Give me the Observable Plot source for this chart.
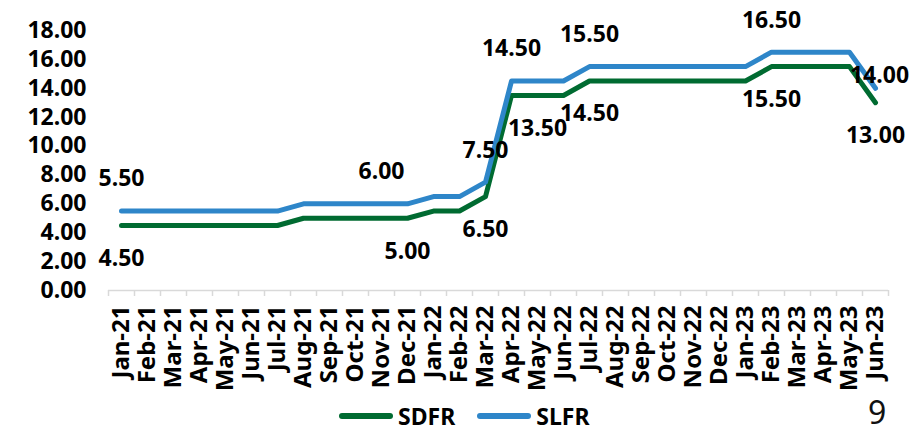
<!DOCTYPE html>
<html>
<head>
<meta charset="utf-8">
<script src="https://cdn.jsdelivr.net/npm/d3@7"></script>
<script src="https://cdn.jsdelivr.net/npm/@observablehq/plot@0.6"></script>
<style>
  html, body { margin: 0; padding: 0; background: #fff; }
  #wrap { position: relative; width: 909px; height: 435px; overflow: hidden; font-family: "Noto Sans", "Open Sans", sans-serif; }
  #legend { position: absolute; left: 339px; top: 400px; display: flex; align-items: center; font-weight: bold; font-size: 23px; color: #000; line-height: 32px; height: 32px; }
  .sw { display: inline-block; width: 54px; height: 6px; border-radius: 3px; margin-right: 5px; }
  .item { display: flex; align-items: center; margin-right: 22px; }
  #page { position: absolute; left: 868px; top: 390px; font-size: 32px; color: #111; line-height: 44px; height: 44px; }
</style>
</head>
<body>
<div id="wrap">
  <div id="chart"></div>
  <div id="legend"></div>
  <div id="page">9</div>
</div>
<script>
const months = ["Jan-21","Feb-21","Mar-21","Apr-21","May-21","Jun-21","Jul-21","Aug-21","Sep-21","Oct-21","Nov-21","Dec-21",
  "Jan-22","Feb-22","Mar-22","Apr-22","May-22","Jun-22","Jul-22","Aug-22","Sep-22","Oct-22","Nov-22","Dec-22",
  "Jan-23","Feb-23","Mar-23","Apr-23","May-23","Jun-23"];
const sdfr = [4.5,4.5,4.5,4.5,4.5,4.5,4.5,5.0,5.0,5.0,5.0,5.0,
  5.5,5.5,6.5,13.5,13.5,13.5,14.5,14.5,14.5,14.5,14.5,14.5,
  14.5,15.5,15.5,15.5,15.5,13.0];
const slfr = [5.5,5.5,5.5,5.5,5.5,5.5,5.5,6.0,6.0,6.0,6.0,6.0,
  6.5,6.5,7.5,14.5,14.5,14.5,15.5,15.5,15.5,15.5,15.5,15.5,
  15.5,16.5,16.5,16.5,16.5,14.0];
const yTicks = [0,2,4,6,8,10,12,14,16,18];
const seriesNames = ["SDFR","SLFR"];
const seriesColors = ["#006b31","#2e86c9"];
const sdfrLabelMonths = ["Jan-21","Dec-21","Mar-22","May-22","Jul-22","Feb-23","Jun-23"];
const slfrLabelMonths = ["Jan-21","Nov-21","Mar-22","Apr-22","Jul-22","Feb-23"];
const slfrEndLabelMonths = ["Jun-23"];

const rows = (vals, name) => vals.map((v, i) => ({i, month: months[i], v, name}));
const sdfrRows = rows(sdfr, "SDFR");
const slfrRows = rows(slfr, "SLFR");
const pick = (rs, list) => rs.filter(r => list.includes(r.month));
const boundaries = d3.range(months.length + 1).map(i => i - 0.5);
const font = "Noto Sans, Open Sans, sans-serif";

const chart = Plot.plot({
  width: 909,
  height: 400,
  marginLeft: 108,
  marginRight: 21,
  marginTop: 30,
  marginBottom: 110,
  style: {fontFamily: font, background: "white", overflow: "visible"},
  x: {type: "linear", domain: [-0.5, months.length - 0.5]},
  y: {domain: [0, 18]},
  marks: [
    Plot.ruleY([0], {stroke: "#d9d9d9", strokeWidth: 1.5}),
    Plot.axisX(boundaries, {tickSize: 6, tickFormat: () => "", stroke: "#d9d9d9", strokeWidth: 1.5, label: null}),
    Plot.axisX(d3.range(months.length), {tickSize: 0, tickPadding: 15, tickRotate: -90, tickFormat: i => months[i],
      fontSize: 24, fontWeight: "bold", fill: "#000", label: null}),
    Plot.axisY(yTicks, {tickSize: 0, tickPadding: 22, tickFormat: d => d.toFixed(2),
      fontSize: 23, fontWeight: "bold", fill: "#000", label: null}),
    Plot.line(sdfrRows, {x: "i", y: "v", stroke: seriesColors[0], strokeWidth: 5, strokeLinecap: "round", strokeLinejoin: "round"}),
    Plot.line(slfrRows, {x: "i", y: "v", stroke: seriesColors[1], strokeWidth: 5, strokeLinecap: "round", strokeLinejoin: "round"}),
    Plot.text(pick(slfrRows, slfrLabelMonths), {x: "i", y: "v", text: d => d.v.toFixed(2), dy: -32,
      fontSize: 23, fontWeight: "bold", fill: "#000"}),
    Plot.text(pick(slfrRows, slfrEndLabelMonths), {x: "i", y: "v", text: d => d.v.toFixed(2), dx: 4, dy: -13,
      fontSize: 23, fontWeight: "bold", fill: "#000"}),
    Plot.text(pick(sdfrRows, sdfrLabelMonths), {x: "i", y: "v", text: d => d.v.toFixed(2), dy: 33,
      fontSize: 23, fontWeight: "bold", fill: "#000"})
  ]
});
document.getElementById("chart").appendChild(chart);

const legend = document.getElementById("legend");
seriesNames.forEach((n, k) => {
  const item = document.createElement("span");
  item.className = "item";
  const sw = document.createElement("span");
  sw.className = "sw";
  sw.style.background = seriesColors[k];
  item.appendChild(sw);
  item.appendChild(document.createTextNode(n));
  legend.appendChild(item);
});
</script>
</body>
</html>
